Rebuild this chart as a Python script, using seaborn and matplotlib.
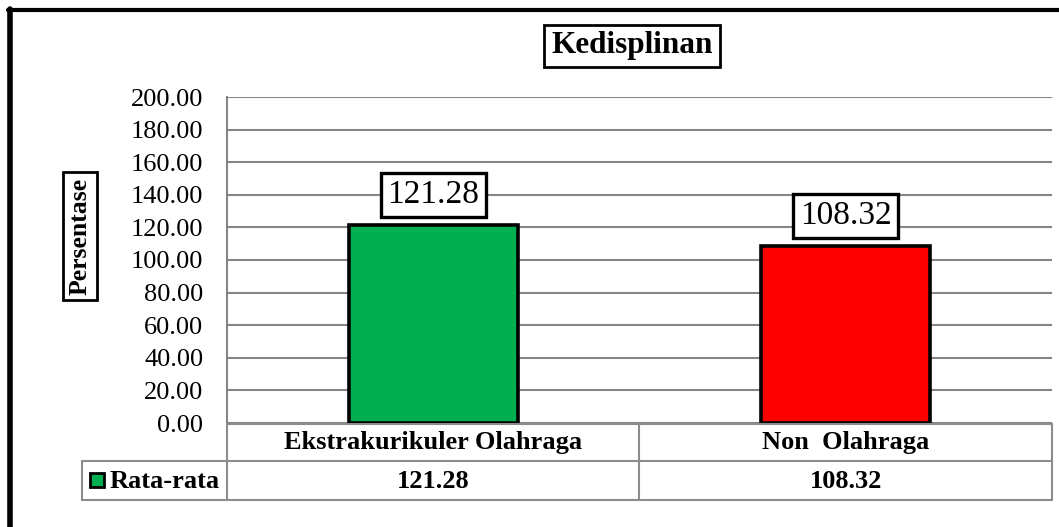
import matplotlib
matplotlib.use("Agg")
import matplotlib.pyplot as plt
import seaborn as sns
from matplotlib.lines import Line2D
from matplotlib.patches import Rectangle
from matplotlib.transforms import blended_transform_factory

# Data
categories = ["Ekstrakurikuler Olahraga", "Non  Olahraga"]
values = [121.28, 108.32]
bar_colors = ["#00B050", "#FF0000"]
series_name = "Rata-rata"
title = "Kedisplinan"
ylabel = "Persentase"
yticks = [0, 20, 40, 60, 80, 100, 120, 140, 160, 180, 200]

W, H = 1059, 527
sns.set_style("white")
plt.rcParams['font.family'] = ['Liberation Serif', 'DejaVu Serif']
plt.rcParams['text.color'] = 'black'
plt.rcParams['ytick.color'] = 'black'

fig = plt.figure(figsize=(W / 100, H / 100), dpi=100)


def fx(px):
    return px / W


def fy(py):
    return 1 - py / H


# plot area in pixels: x 227..1052, y 97..423
ax = fig.add_axes([fx(227), fy(423), fx(1052) - fx(227), fy(97) - fy(423)])

sns.barplot(x=categories, y=values, hue=categories, palette=bar_colors,
            saturation=1, width=0.41, edgecolor="black", linewidth=2.6,
            legend=False, ax=ax, zorder=3)

ax.set_xlim(-0.5, 1.5)
ax.set_ylim(0, 200)
ax.set_yticks(yticks)
ax.set_yticklabels([f"{v:.2f}" for v in yticks], fontsize=19, color="black")
ax.tick_params(axis="y", length=0, pad=17)
ax.set_xticks([])
ax.set_xlabel("")
ax.set_ylabel("")
ax.grid(axis="y", color="#868686", linewidth=1.5, zorder=0)
for s in ["top", "right", "bottom"]:
    ax.spines[s].set_visible(False)
ax.spines["left"].set_color("#868686")
ax.spines["left"].set_linewidth(1.5)

# value labels in boxes
for i, v in enumerate(values):
    ax.annotate(f"{v:.2f}", xy=(i, v), xytext=(0, 22), textcoords="offset points",
                ha="center", va="center", fontsize=24, zorder=5,
                bbox=dict(boxstyle="square,pad=0.2", facecolor="white",
                          edgecolor="black", linewidth=2.4))

# title and y label
fig.text(fx(632), fy(46), title, ha="center", va="center", fontsize=22.5,
         fontweight="bold",
         bbox=dict(boxstyle="square,pad=0.22", facecolor="white",
                   edgecolor="black", linewidth=2))
fig.text(fx(80), fy(236), ylabel, ha="center", va="center", fontsize=18.5,
         fontweight="bold", rotation=90,
         bbox=dict(boxstyle="square,pad=0.22", facecolor="white",
                   edgecolor="black", linewidth=2))

# data table under the axis
grey = "#8c8c8c"
lw = 1.5


def hline(x0, x1, y):
    fig.add_artist(Line2D([fx(x0), fx(x1)], [fy(y), fy(y)], color=grey, lw=lw))


def vline(x, y0, y1):
    fig.add_artist(Line2D([fx(x), fx(x)], [fy(y0), fy(y1)], color=grey, lw=lw))


hline(227, 1052, 424)
hline(82, 1052, 461)
hline(82, 1052, 500)
vline(227, 424, 500)
vline(639, 424, 500)
vline(1052, 424, 500)
vline(82, 461, 500)

trans = blended_transform_factory(ax.transData, fig.transFigure)
for i, (cat, v) in enumerate(zip(categories, values)):
    ax.text(i, fy(442), cat, transform=trans, ha="center", va="center",
            fontsize=19, fontweight="bold", clip_on=False)
    ax.text(i, fy(481), f"{v:.2f}", transform=trans, ha="center", va="center",
            fontsize=19, fontweight="bold", clip_on=False)

fig.add_artist(Rectangle((fx(90), fy(487)), fx(14), fy(473) - fy(487),
                         facecolor=bar_colors[0], edgecolor="black", lw=2,
                         transform=fig.transFigure))
fig.text(fx(110), fy(481), series_name, ha="left", va="center", fontsize=19,
         fontweight="bold")

# outer chart border (left and top visible)
fig.add_artist(Line2D([fx(10), fx(10)], [fy(9), 0], color="black", lw=4))
fig.add_artist(Line2D([fx(8), 1], [fy(10), fy(10)], color="black", lw=3))

fig.savefig("out.png", dpi=100)
